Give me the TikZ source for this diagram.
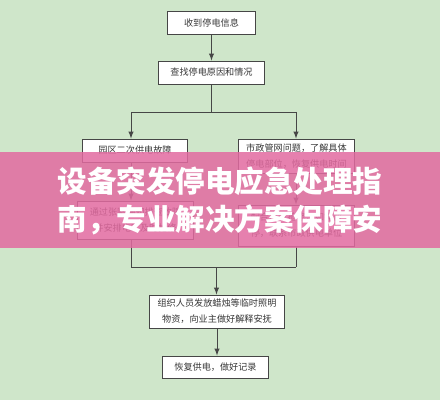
\documentclass[tikz,border=0pt]{standalone}
\usepackage{fontspec}
\newfontfamily\cjk{Noto Sans CJK SC}
\usetikzlibrary{shapes,arrows}
\definecolor{bggreen}{RGB}{207,230,202}
\definecolor{linegray}{RGB}{70,70,70}
\definecolor{textgray}{RGB}{55,55,55}
\definecolor{bannerpink}{RGB}{226,106,160}
\tikzstyle{block} = [draw=linegray, fill=white, rectangle, line width=0.7pt, inner sep=0pt, align=center, text=textgray, font=\cjk\fontsize{6.5}{11.5}\selectfont]
\tikzstyle{line} = [draw=linegray, line width=0.7pt]
\tikzstyle{banner} = [text=white, align=left, font=\cjk\bfseries\fontsize{21}{26.5}\selectfont]

\begin{document}
\begin{tikzpicture}[x=0.025cm,y=-0.025cm,>=latex]
	\fill[bggreen] (0,0) rectangle (440,400);
	\useasboundingbox (0,0) rectangle (440,400);

	% put the boxes where we want them
	\node [block,minimum width=2.2cm,minimum height=0.575cm] (rcv) at (211.5,22.5) {收到停电信息};
	\node [block,minimum width=2.625cm,minimum height=0.575cm] (find) at (211.5,72.5) {查找停电原因和情况};
	\node [block,minimum width=2.6cm,minimum height=0.575cm] (park) at (135,150.5) {园区二次供电故障};
	\node [block,minimum width=2.875cm,minimum height=0.85cm] (city) at (296.5,156) {市政管网问题，了解具体\\停电部位，恢复供电时间};
	\node [block,minimum width=2.875cm,minimum height=0.95cm] (notice) at (135.5,220) {通过张贴通知排查故障\\并安排电工及时抢修};
	\node [block,minimum width=2.875cm,minimum height=1.025cm] (contact) at (296.5,225.5) {配合市政抢修，如需暂\\停，联系市政供电单位};
	\node [block,minimum width=3.35cm,minimum height=0.825cm] (supply) at (217,311.5) {组织人员发放蜡烛等临时照明\\物资，向业主做好解释安抚};
	\node [block,minimum width=2.625cm,minimum height=0.55cm] (record) at (215.5,367) {恢复供电，做好记录};

	% branch and merge points
	\coordinate (split) at (211.5,112);
	\coordinate (lsplit) at (131,112);
	\coordinate (rsplit) at (296,112);
	\coordinate (lmerge) at (131,267);
	\coordinate (rmerge) at (296,267);
	\coordinate (merge) at (216.5,267);

	% draw the main flow
	\draw [line,->] (rcv.south) -- (rcv.south |- find.north);
	\draw [line] (find.south) -- (split);
	\draw [line] (lsplit) -- (rsplit);
	\draw [line,->] (lsplit) -- (lsplit |- park.north);
	\draw [line,->] (rsplit) -- (rsplit |- city.north);

	% left branch
	\draw [line,->] (lsplit |- park.south) -- (lsplit |- notice.north);
	\draw [line] (lsplit |- notice.south) -- (lmerge);

	% right branch
	\draw [line,->] (rsplit |- city.south) -- (rsplit |- contact.north);
	\draw [line] (rsplit |- contact.south) -- (rmerge);

	% merge and finish
	\draw [line] (lmerge) -- (rmerge);
	\draw [line,->] (merge) -- (merge |- supply.north);
	\draw [line,->] (supply.south) -- (supply.south |- record.north);

	% title banner on top
	\fill [bannerpink,opacity=0.85] (0,152) rectangle (440,248);
	\node [banner] (title) at (220,201) {设备突发停电应急处理指\\南，专业解决方案保障安};
\end{tikzpicture}
\end{document}
